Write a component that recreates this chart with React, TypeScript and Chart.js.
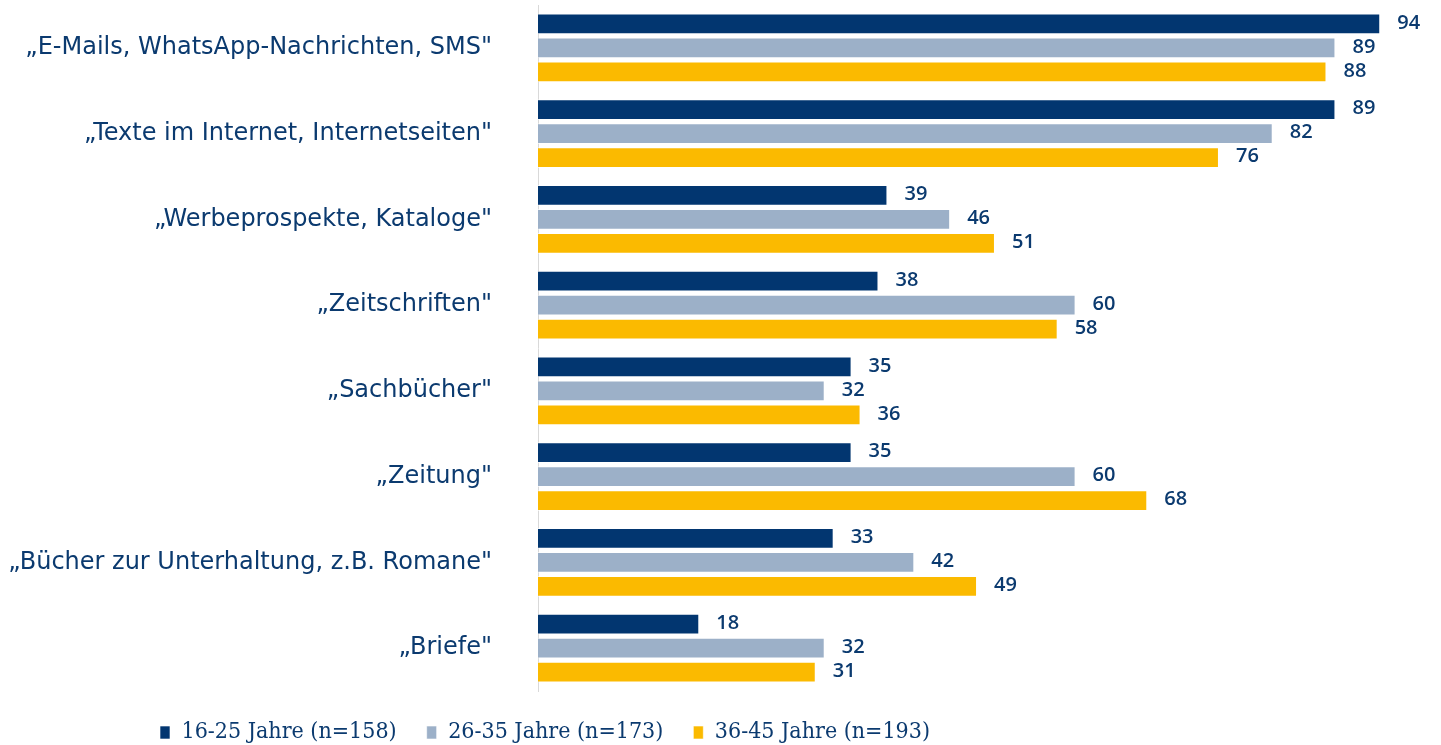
import React, { useEffect, useRef } from "react";
import { Chart, registerables } from "chart.js";

Chart.register(...registerables);

const categories = [
  "\u201EE-Mails, WhatsApp-Nachrichten, SMS\"",
  "\u201ETexte im Internet, Internetseiten\"",
  "\u201EWerbeprospekte, Kataloge\"",
  "\u201EZeitschriften\"",
  "\u201ESachb\u00FCcher\"",
  "\u201EZeitung\"",
  "\u201EB\u00FCcher zur Unterhaltung, z.B. Romane\"",
  "\u201EBriefe\"",
];
const seriesNames = ["16-25 Jahre (n=158)", "26-35 Jahre (n=173)", "36-45 Jahre (n=193)"];
const age16to25 = [94, 89, 39, 38, 35, 35, 33, 18];
const age26to35 = [89, 82, 46, 60, 32, 60, 42, 32];
const age36to45 = [88, 76, 51, 58, 36, 68, 49, 31];
const colors = ["#023670", "#9cb0c8", "#fbba00"];
const textColor = "#0b3a6f";

const valueLabels = {
  id: "valueLabels",
  afterDatasetsDraw(chart: any) {
    const ctx = chart.ctx;
    ctx.save();
    ctx.font = "600 20px 'Open Sans'";
    ctx.fillStyle = textColor;
    ctx.textAlign = "left";
    ctx.textBaseline = "middle";
    chart.data.datasets.forEach((ds: any, i: number) => {
      const meta = chart.getDatasetMeta(i);
      meta.data.forEach((bar: any, j: number) => {
        ctx.fillText(String(ds.data[j]), bar.x + 17, bar.y - 1);
      });
    });
    ctx.restore();
  },
};

const legendShift = {
  id: "legendShift",
  afterLayout(chart: any) {
    const lg = chart.legend;
    if (lg) {
      lg.left += 130;
      lg.right += 130;
    }
  },
};

export default function App() {
  const ref = useRef<HTMLCanvasElement | null>(null);
  useEffect(() => {
    document.body.style.margin = "0";
    const data = [age16to25, age26to35, age36to45];
    const chart = new Chart(ref.current!, {
      type: "bar",
      data: {
        labels: categories,
        datasets: seriesNames.map((name, i) => ({
          label: name,
          data: data[i],
          backgroundColor: colors[i],
          borderColor: "rgba(255,255,255,0.6)",
          borderWidth: 1,
          categoryPercentage: 0.84,
          barPercentage: 0.86,
        })),
      },
      options: {
        indexAxis: "y",
        animation: false,
        responsive: false,
        layout: { padding: { top: 5, right: 7, bottom: -9, left: 0 } },
        scales: {
          x: { min: 0, max: 100, display: false },
          y: {
            grid: { display: false },
            border: { display: true, color: "#d9d9d9", width: 1 },
            ticks: {
              color: textColor,
              padding: 38,
              font: { family: "'DejaVu Sans'", size: 24 },
            },
            afterFit(scale: any) {
              scale.width = 538;
              scale.paddingTop = 0;
              scale.paddingBottom = 0;
            },
          },
        },
        plugins: {
          tooltip: { enabled: false },
          legend: {
            position: "bottom",
            align: "start",
            labels: {
              color: textColor,
              boxWidth: 10,
              boxHeight: 13,
              padding: 30,
              font: { family: "'DejaVu Serif Condensed', 'Liberation Serif', serif", size: 23 },
            },
          },
        },
      },
      plugins: [valueLabels, legendShift],
    });
    return () => chart.destroy();
  }, []);
  return (
    <div style={{ width: 1441, height: 745 }}>
      <canvas ref={ref} width={1441} height={745} />
    </div>
  );
}
